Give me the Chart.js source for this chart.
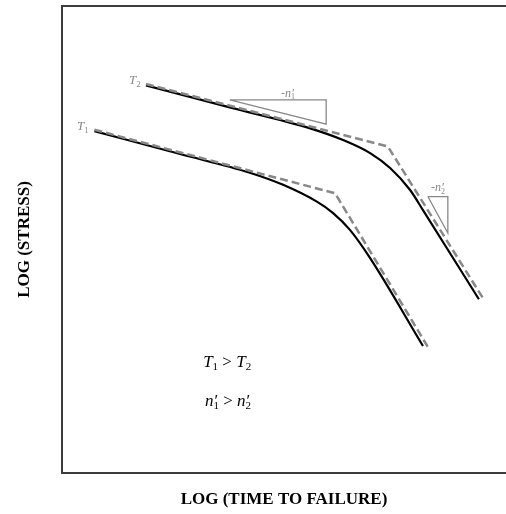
<!DOCTYPE html>
<html>
<head>
<meta charset="utf-8">
<script src="https://cdn.jsdelivr.net/npm/chart.js@4.4.0/dist/chart.umd.min.js"></script>
<style>
  html, body { margin: 0; padding: 0; background: #fff; overflow: hidden; }
  #wrap { width: 506px; height: 514px; }
</style>
</head>
<body>
<div id="wrap"><canvas id="creepChart"></canvas></div>
<script>
// log(time to failure) / log(stress), arbitrary units 0..100
const t2CurveX = [18.9, 37.8, 55.9, 63.3, 69.4, 73.9, 78.4, 81.3, 93.9];
const t2CurveY = [83.0, 78.3, 73.8, 71.3, 68.5, 65.3, 60.6, 56.3, 37.2];
const t2AsymX = [18.9, 73.4, 95.1];
const t2AsymY = [83.3, 69.9, 37.0];

const t1CurveX = [7.3, 26.6, 42.3, 49.8, 57.4, 61.0, 64.9, 69.4, 81.3];
const t1CurveY = [73.2, 68.3, 64.3, 61.7, 58.1, 55.7, 52.0, 46.0, 27.2];
const t1AsymX = [7.3, 61.5, 82.4];
const t1AsymY = [73.5, 59.9, 27.0];

// slope triangles
const tri1X = [37.8, 59.5, 59.5, 37.8];
const tri1Y = [79.9, 79.9, 74.7, 79.9];
const tri2X = [82.4, 86.9, 86.9, 82.4];
const tri2Y = [59.2, 59.2, 51.4, 59.2];

const toPts = (xs, ys) => xs.map((x, i) => ({ x: x, y: ys[i] }));

const serif = '"Liberation Serif", "Times New Roman", serif';
const gray = '#888888';

// text labels: parts -> i = italic, r = roman, p = prime (no advance), sub = subscript
const labels = [
  { x: 16.4, y: 84.2, size: 13, color: gray, parts: [['T', 'i'], ['2', 'sub']] },
  { x: 4.7, y: 74.3, size: 13, color: gray, parts: [['T', 'i'], ['1', 'sub']] },
  { x: 50.9, y: 81.4, size: 12, color: gray, parts: [['-', 'r'], ['n', 'i'], ['\u2032', 'p'], ['1', 'sub']] },
  { x: 84.7, y: 61.2, size: 12, color: gray, parts: [['-', 'r'], ['n', 'i'], ['\u2032', 'p'], ['2', 'sub']] },
  { x: 37.2, y: 24.0, size: 17, color: '#000', parts: [['T', 'i'], ['1', 'sub'], [' > ', 'r'], ['T', 'i'], ['2', 'sub']] },
  { x: 37.4, y: 15.6, size: 17, color: '#000', parts: [['n', 'i'], ['\u2032', 'p'], ['1', 'sub'], [' > ', 'r'], ['n', 'i'], ['\u2032', 'p'], ['2', 'sub']] }
];

function fontFor(style, size) {
  const s = style === 'sub' ? Math.round(size * 0.66) : size;
  return (style === 'i' ? 'italic ' : '') + s + 'px ' + serif;
}

function mathText(ctx, lab, cx, cy) {
  const widths = lab.parts.map(p => { ctx.font = fontFor(p[1], lab.size); return ctx.measureText(p[0]).width; });
  let total = 0, held = 0;
  lab.parts.forEach((p, i) => {
    if (p[1] === 'p') held = widths[i];
    else { total += Math.max(widths[i], held); held = 0; }
  });
  let x = cx - total / 2;
  const base = cy + lab.size * 0.33;
  ctx.fillStyle = lab.color;
  ctx.textAlign = 'left';
  ctx.textBaseline = 'alphabetic';
  held = 0;
  lab.parts.forEach((p, i) => {
    ctx.font = fontFor(p[1], lab.size);
    const dy = p[1] === 'sub' ? lab.size * 0.22 : 0;
    ctx.fillText(p[0], x + (p[1] === 'p' ? 1 : 0), base + dy);
    if (p[1] === 'p') held = widths[i];
    else { x += Math.max(widths[i], held); held = 0; }
  });
}

const textLabels = {
  id: 'textLabels',
  afterDatasetsDraw(chart) {
    const { ctx, scales: { x, y } } = chart;
    ctx.save();
    labels.forEach(l => mathText(ctx, l, x.getPixelForValue(l.x), y.getPixelForValue(l.y)));
    ctx.restore();
  }
};

const solid = { borderColor: '#000', borderWidth: 2.2, pointRadius: 0, cubicInterpolationMode: 'monotone', fill: false, order: 2 };
const dashed = { borderColor: gray, borderWidth: 2.5, borderDash: [8, 4], pointRadius: 0, tension: 0, fill: false, order: 1 };
const tri = { borderColor: gray, borderWidth: 1.3, pointRadius: 0, tension: 0, fill: false, order: 3 };

new Chart(document.getElementById('creepChart'), {
  type: 'line',
  data: {
    datasets: [
      Object.assign({ label: 'T2', data: toPts(t2CurveX, t2CurveY) }, solid),
      Object.assign({ label: 'T2 asymptotes', data: toPts(t2AsymX, t2AsymY) }, dashed),
      Object.assign({ label: 'T1', data: toPts(t1CurveX, t1CurveY) }, solid),
      Object.assign({ label: 'T1 asymptotes', data: toPts(t1AsymX, t1AsymY) }, dashed),
      Object.assign({ label: 'n1', data: toPts(tri1X, tri1Y) }, tri),
      Object.assign({ label: 'n2', data: toPts(tri2X, tri2Y) }, tri)
    ]
  },
  options: {
    responsive: true,
    maintainAspectRatio: false,
    animation: false,
    layout: { padding: { top: 6, right: 0, left: 0, bottom: 0 } },
    plugins: { legend: { display: false }, tooltip: { enabled: false } },
    scales: {
      x: {
        type: 'linear', min: 0, max: 100,
        grid: { display: false },
        border: { display: true, color: '#3c3c3c', width: 2 },
        ticks: { display: false },
        title: { display: true, text: 'LOG (TIME TO FAILURE)', color: '#000', font: { family: serif, size: 17, weight: 'bold' }, padding: { top: 0, bottom: 4 } },
        afterFit(scale) { scale.height = 41; }
      },
      xTop: {
        type: 'linear', position: 'top', min: 0, max: 100,
        grid: { display: false },
        border: { display: true, color: '#3c3c3c', width: 2 },
        ticks: { display: false },
        afterFit(scale) { scale.height = 0; }
      },
      y: {
        type: 'linear', min: 0, max: 100,
        grid: { display: false },
        border: { display: true, color: '#3c3c3c', width: 2 },
        ticks: { display: false },
        title: { display: true, text: 'LOG (STRESS)', color: '#000', font: { family: serif, size: 17, weight: 'bold' }, padding: { top: 14, bottom: 0 } },
        afterFit(scale) { scale.width = 62; }
      }
    }
  },
  plugins: [textLabels]
});
</script>
</body>
</html>
